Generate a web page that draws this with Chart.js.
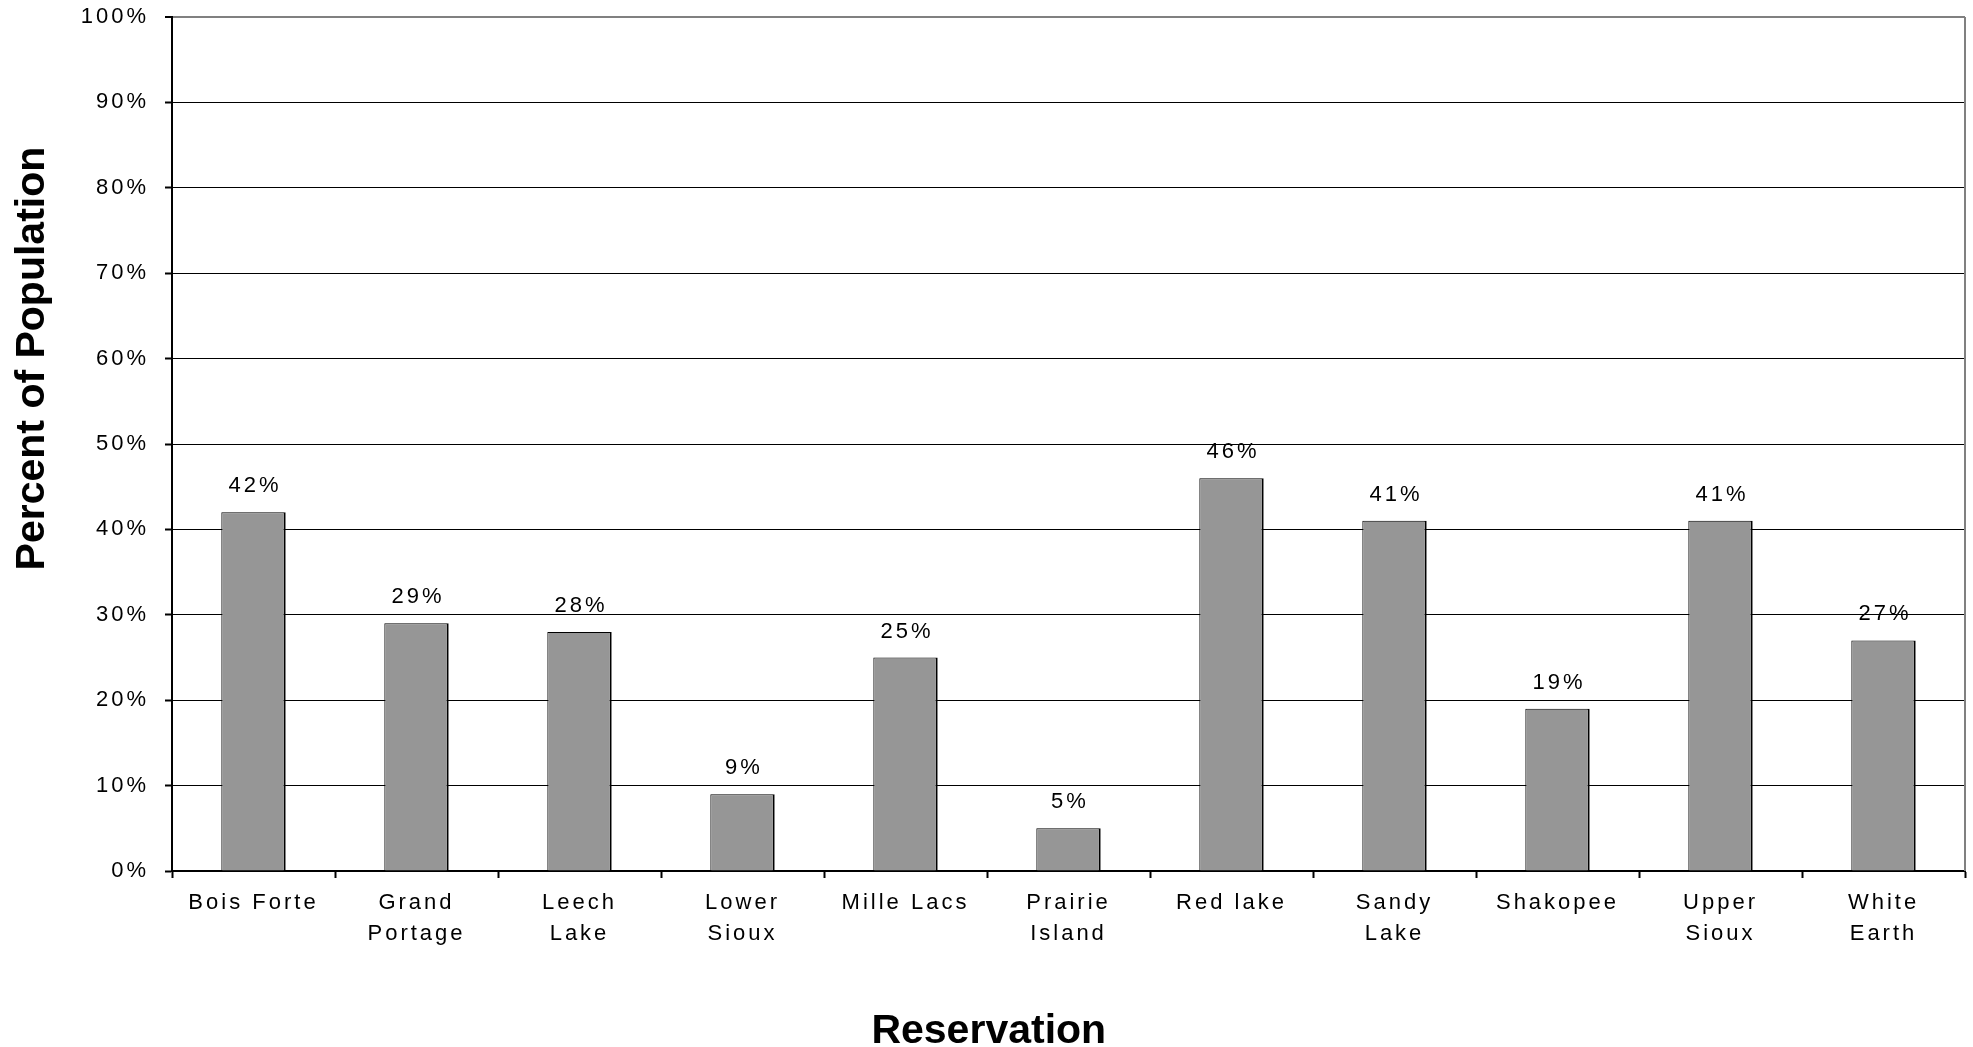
<!DOCTYPE html>
<html>
<head>
<meta charset="utf-8">
<script src="https://cdn.jsdelivr.net/npm/chart.js@4"></script>
<style>
  body { margin: 0; background: #fff; }
  canvas { display: block; }
</style>
</head>
<body>
<canvas id="chart" width="1973" height="1047"></canvas>
<script>
// Reservation data (percent of population)
const reservations = [
    "Bois Forte",
    ["Grand", "Portage"],
    ["Leech", "Lake"],
    ["Lower", "Sioux"],
    "Mille Lacs",
    ["Prairie", "Island"],
    "Red lake",
    ["Sandy", "Lake"],
    "Shakopee",
    ["Upper", "Sioux"],
    ["White", "Earth"]
];
const percents = [42, 29, 28, 9, 25, 5, 46, 41, 19, 41, 27];

const FONT = "'Liberation Sans', Arial, sans-serif";

// the titles sit off-centre in the original, spaces nudge them
const yTitle = ' '.repeat(15) + 'Percent of Population';
const xTitle = 'Reservation' + ' '.repeat(14);

// spacing for small text only, titles stay normal
const spacingPlugin = {
    id: 'spacing',
    beforeDraw(chart) {
        chart.ctx.letterSpacing = '0px';
    },
    afterDatasetsDraw(chart) {
        const ctx = chart.ctx;
        ctx.letterSpacing = '3px';
        ctx.save();
        ctx.font = '22px ' + FONT;
        ctx.fillStyle = '#000';
        ctx.textAlign = 'center';
        ctx.textBaseline = 'middle';
        const meta = chart.getDatasetMeta(0);
        meta.data.forEach((bar, i) => {
            ctx.fillText(percents[i] + '%', bar.x + 1.5, bar.y - 26);
        });
        ctx.restore();
    },
    afterDraw(chart) {
        // grey plot border on the right
        const { ctx, chartArea } = chart;
        ctx.save();
        ctx.strokeStyle = '#808080';
        ctx.lineWidth = 2;
        ctx.beginPath();
        ctx.moveTo(chartArea.right, chartArea.top);
        ctx.lineTo(chartArea.right, chartArea.bottom);
        ctx.stroke();
        ctx.restore();
    }
};

new Chart(document.getElementById('chart'), {
    type: 'bar',
    data: {
        labels: reservations,
        datasets: [{
            data: percents,
            backgroundColor: '#969696',
            borderColor: '#000',
            borderWidth: { top: 1, left: 1, right: 2, bottom: 0 },
            borderSkipped: false,
            categoryPercentage: 1,
            barPercentage: 0.395
        }]
    },
    options: {
        responsive: false,
        animation: false,
        layout: { padding: { top: 17, right: 8, left: 0, bottom: 0 } },
        plugins: {
            legend: { display: false },
            tooltip: { enabled: false }
        },
        scales: {
            x: {
                grid: {
                    drawOnChartArea: false,
                    tickLength: 7,
                    tickColor: '#000',
                    tickWidth: 2
                },
                border: { color: '#000', width: 2 },
                ticks: {
                    z: 1,
                    color: '#000',
                    padding: 10,
                    maxRotation: 0,
                    autoSkip: false,
                    font: { family: FONT, size: 22, lineHeight: 1.4 }
                },
                title: {
                    display: true,
                    text: xTitle,
                    color: '#000',
                    padding: 0,
                    font: { family: FONT, size: 41, weight: 'bold', lineHeight: 0.75 }
                },
                afterFit(scale) { scale.height = 176; }
            },
            y: {
                min: 0,
                max: 100,
                grid: {
                    color: c => c.tick && c.tick.value === 100 ? '#808080' : '#000',
                    lineWidth: c => c.tick && c.tick.value === 100 ? 2 : 1,
                    tickLength: 7,
                    tickColor: '#000',
                    tickWidth: 2
                },
                border: { color: '#000', width: 2 },
                ticks: {
                    z: 1,
                    stepSize: 10,
                    color: '#000',
                    padding: 16,
                    font: { family: FONT, size: 22 },
                    callback: v => v + '%'
                },
                title: {
                    display: true,
                    text: yTitle,
                    color: '#000',
                    padding: { top: 12 },
                    font: { family: FONT, size: 41, weight: 'bold', lineHeight: 1 }
                },
                afterFit(scale) {
                    scale.width = 172;
                    scale.paddingTop = 0;
                    scale.paddingBottom = 0;
                }
            }
        }
    },
    plugins: [spacingPlugin]
});
</script>
</body>
</html>
